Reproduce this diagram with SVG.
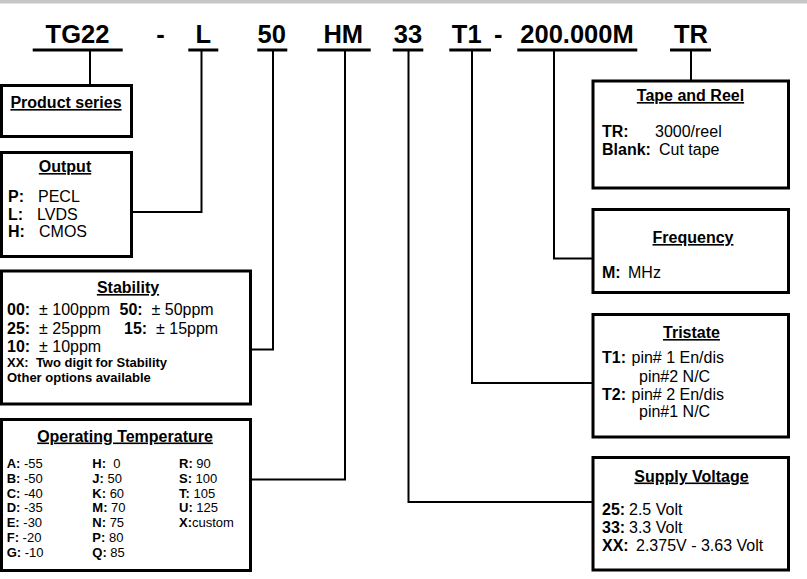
<svg xmlns="http://www.w3.org/2000/svg" width="807" height="579" viewBox="0 0 807 579">
<style>
  .hdr { font-family: "Liberation Sans", Arial, sans-serif; font-size: 25.5px; font-weight: bold; fill: #000; text-anchor: middle; }
  .ul { stroke: #000; stroke-width: 3; }
  .box { fill: #fff; stroke: #000; stroke-width: 3; }
  .title { font-family: "Liberation Sans", Arial, sans-serif; font-size: 16px; font-weight: bold; text-anchor: middle; text-decoration: underline; fill: #000; }
  .t { font-family: "Liberation Sans", Arial, sans-serif; font-size: 16px; fill: #000; }
  .s { font-family: "Liberation Sans", Arial, sans-serif; font-size: 13px; fill: #000; }
  .b { font-weight: bold; }
  .conn { fill: none; stroke: #000; stroke-width: 2; }
</style>
<rect x="0" y="0" width="807" height="3.5" fill="#c6c6c6"/>
<g id="header">
  <text class="hdr" x="77.5" y="43.3">TG22</text>
  <text class="hdr" x="160.5" y="43.3">-</text>
  <text class="hdr" x="203.3" y="43.3">L</text>
  <text class="hdr" x="271.8" y="43.3">50</text>
  <text class="hdr" x="343.3" y="43.3">HM</text>
  <text class="hdr" x="408" y="43.3">33</text>
  <text class="hdr" x="466.7" y="43.3">T1</text>
  <text class="hdr" x="498.3" y="43.3">-</text>
  <text class="hdr" x="577" y="43.3">200.000M</text>
  <text class="hdr" x="691" y="43.3">TR</text>
  <line class="ul" x1="32.7" y1="50" x2="122.7" y2="50"/>
  <line class="ul" x1="188.3" y1="50" x2="218.3" y2="50"/>
  <line class="ul" x1="257.3" y1="50" x2="287.3" y2="50"/>
  <line class="ul" x1="317.3" y1="50" x2="370.7" y2="50"/>
  <line class="ul" x1="392.7" y1="50" x2="423.3" y2="50"/>
  <line class="ul" x1="449.3" y1="50" x2="491" y2="50"/>
  <line class="ul" x1="517.3" y1="50" x2="637.3" y2="50"/>
  <line class="ul" x1="670" y1="50" x2="711" y2="50"/>
</g>
<g id="connectors">
  <path class="conn" d="M90,51 V86"/>
  <path class="conn" d="M201.5,51 V212 H132"/>
  <path class="conn" d="M273,51 V349.5 H251"/>
  <path class="conn" d="M345,51 V479.5 H251"/>
  <path class="conn" d="M408.5,51 V502 H593"/>
  <path class="conn" d="M472,51 V383 H593"/>
  <path class="conn" d="M554,51 V258.5 H593"/>
  <path class="conn" d="M691,51 V81"/>
</g>
<g id="product-series">
  <rect class="box" x="1.5" y="85.5" width="130" height="51"/>
  <text class="title" x="66" y="108">Product series</text>
</g>
<g id="output">
  <rect class="box" x="1.5" y="152.5" width="130" height="104"/>
  <text class="title" x="65" y="172">Output</text>
  <text class="t" x="8" y="202"><tspan class="b">P:</tspan></text><text class="t" x="38" y="202">PECL</text>
  <text class="t" x="8" y="219.5"><tspan class="b">L:</tspan></text><text class="t" x="37" y="219.5">LVDS</text>
  <text class="t" x="8" y="237"><tspan class="b">H:</tspan></text><text class="t" x="39" y="237">CMOS</text>
</g>
<g id="stability">
  <rect class="box" x="1.5" y="271" width="249" height="133"/>
  <text class="title" x="128" y="293">Stability</text>
  <text class="t b" x="7" y="315">00:</text><text class="t" x="39" y="315">± 100ppm</text>
  <text class="t b" x="119.5" y="315">50:</text><text class="t" x="151.5" y="315">± 50ppm</text>
  <text class="t b" x="7" y="334">25:</text><text class="t" x="39" y="334">± 25ppm</text>
  <text class="t b" x="124" y="334">15:</text><text class="t" x="156" y="334">± 15ppm</text>
  <text class="t b" x="7" y="351.5">10:</text><text class="t" x="39" y="351.5">± 10ppm</text>
  <text class="s b" x="7" y="367" xml:space="preserve">XX:  Two digit for Stability</text>
  <text class="s b" x="7" y="381.5">Other options available</text>
</g>
<g id="operating-temperature">
  <rect class="box" x="1.5" y="419.5" width="249" height="151"/>
  <text class="title" x="125" y="441.5">Operating Temperature</text>
  <g class="s">
    <text x="6.7" y="468.3"><tspan class="b">A:</tspan> -55</text>
    <text x="6.7" y="483"><tspan class="b">B:</tspan> -50</text>
    <text x="6.7" y="497.7"><tspan class="b">C:</tspan> -40</text>
    <text x="6.7" y="512.4"><tspan class="b">D:</tspan> -35</text>
    <text x="6.7" y="527.1"><tspan class="b">E:</tspan> -30</text>
    <text x="6.7" y="541.8"><tspan class="b">F:</tspan> -20</text>
    <text x="6.7" y="556.5"><tspan class="b">G:</tspan> -10</text>
    <text x="92.3" y="468.3" xml:space="preserve"><tspan class="b">H:</tspan>  0</text>
    <text x="92.3" y="483"><tspan class="b">J:</tspan> 50</text>
    <text x="92.3" y="497.7"><tspan class="b">K:</tspan> 60</text>
    <text x="92.3" y="512.4"><tspan class="b">M:</tspan> 70</text>
    <text x="92.3" y="527.1"><tspan class="b">N:</tspan> 75</text>
    <text x="92.3" y="541.8"><tspan class="b">P:</tspan> 80</text>
    <text x="92.3" y="556.5"><tspan class="b">Q:</tspan> 85</text>
    <text x="179" y="468.3"><tspan class="b">R:</tspan> 90</text>
    <text x="179" y="483"><tspan class="b">S:</tspan> 100</text>
    <text x="179" y="497.7"><tspan class="b">T:</tspan> 105</text>
    <text x="179" y="512.4"><tspan class="b">U:</tspan> 125</text>
    <text x="179" y="527.1"><tspan class="b">X:</tspan>custom</text>
  </g>
</g>
<g id="tape-and-reel">
  <rect class="box" x="593" y="81" width="195.5" height="107"/>
  <text class="title" x="690.5" y="101">Tape and Reel</text>
  <text class="t b" x="602" y="136.5">TR:</text><text class="t" x="655" y="136.5">3000/reel</text>
  <text class="t b" x="602" y="155">Blank:</text><text class="t" x="659" y="155">Cut tape</text>
</g>
<g id="frequency">
  <rect class="box" x="593" y="209.5" width="195.5" height="83"/>
  <text class="title" x="693" y="243">Frequency</text>
  <text class="t b" x="602" y="278">M:</text><text class="t" x="628" y="278">MHz</text>
</g>
<g id="tristate">
  <rect class="box" x="593" y="314.5" width="195.5" height="122.5"/>
  <text class="title" x="691.5" y="338">Tristate</text>
  <text class="t b" x="602" y="363">T1:</text><text class="t" x="631.5" y="363">pin# 1 En/dis</text>
  <text class="t" x="639" y="381.5">pin#2 N/C</text>
  <text class="t b" x="602" y="400">T2:</text><text class="t" x="631.5" y="400">pin# 2 En/dis</text>
  <text class="t" x="639" y="416.5">pin#1 N/C</text>
</g>
<g id="supply-voltage">
  <rect class="box" x="593" y="457.5" width="195.5" height="112.5"/>
  <text class="title" x="691.5" y="481.5">Supply Voltage</text>
  <text class="t b" x="602" y="515">25:</text><text class="t" x="629" y="515">2.5 Volt</text>
  <text class="t b" x="602" y="533">33:</text><text class="t" x="629" y="533">3.3 Volt</text>
  <text class="t b" x="602" y="550.5">XX:</text><text class="t" x="636" y="550.5">2.375V - 3.63 Volt</text>
</g>
</svg>
